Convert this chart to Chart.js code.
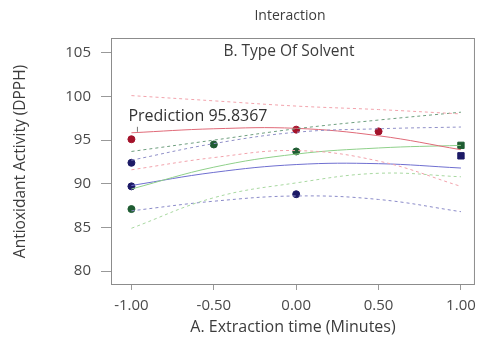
<!DOCTYPE html>
<html lang="en">
<head>
<meta charset="UTF-8">
<title>Interaction</title>
<style>
  body{margin:0;background:#fff}
  #wrap{width:483px;height:337px}
</style>
</head>
<body>
<div id="wrap"><canvas id="interactionChart"></canvas></div>
<script src="https://cdn.jsdelivr.net/npm/chart.js"></script>
<script>
// x levels (coded extraction time) and axis ticks
var xLevels = [-1, -0.5, 0, 0.5, 1];
var xTicks = [-1, -0.5, 0, 0.5, 1];
var yTicks = [80, 85, 90, 95, 100, 105];

// B1 (red) prediction and bands
var redFit  = [95.84, 96.3, 96.35, 95.5, 93.9];
var redHigh = [100.1, 99.5, 98.9, 98.5, 98.0];
var redLow  = [91.6, 93.0, 93.8, 92.6, 89.7];
// B2 (green)
var greenFit  = [89.4, 91.9, 93.4, 94.1, 94.4];
var greenHigh = [93.7, 95.0, 96.3, 97.3, 98.2];
var greenLow  = [84.9, 88.4, 90.1, 91.2, 90.8];
// B3 (blue)
var blueFit  = [89.8, 91.3, 92.2, 92.3, 91.8];
var blueHigh = [92.7, 94.6, 95.9, 96.3, 96.5];
var blueLow  = [86.9, 88.0, 88.6, 88.2, 86.8];

// design points
var redPtsX = [-1, 0, 0.5];
var redPtsY = [95.1, 96.2, 96.0];
var greenPtsX = [-1, -0.5, 0, 1];
var greenPtsY = [87.1, 94.5, 93.7, 94.4];
var bluePtsX = [-1, -1, 0, 1];
var bluePtsY = [92.4, 89.7, 88.8, 93.2];

var predX = -1;
var predValue = 95.8367;

function pts(xs, ys) {
  return xs.map(function (x, i) { return { x: x, y: ys[i] }; });
}
function curve(ys, color, dashed) {
  return {
    type: 'line',
    data: pts(xLevels, ys),
    borderColor: color,
    borderWidth: 1,
    borderDash: dashed ? [3, 3] : [],
    pointRadius: 0,
    tension: 0.4,
    fill: false
  };
}
function dots(xs, ys, color) {
  return {
    type: 'scatter',
    data: pts(xs, ys),
    backgroundColor: color,
    borderColor: color,
    pointRadius: function (ctx) { return ctx.raw && ctx.raw.x === 1 ? 4.5 : 3.5; },
    pointStyle: function (ctx) { return ctx.raw && ctx.raw.x === 1 ? 'rect' : 'circle'; }
  };
}

var extras = {
  id: 'extras',
  afterDraw: function (chart) {
    var c = chart.ctx, a = chart.chartArea;
    var xs = chart.scales.x, ys = chart.scales.y;
    c.save();
    c.strokeStyle = '#8c8c8c';
    c.lineWidth = 1;
    c.strokeRect(a.left + 0.5, a.top + 0.5, a.width - 1, a.height - 1);
    c.fillStyle = '#3c3c3c';
    c.textAlign = 'center';
    c.textBaseline = 'middle';
    c.font = '14px "Open Sans"';
    c.fillText('Interaction', (a.left + a.right) / 2 - 3, 16);
    c.font = '15.5px "Open Sans"';
    c.fillText('B. Type Of Solvent', (a.left + a.right) / 2 - 4, 52);
    var px = xs.getPixelForValue(predX), py = ys.getPixelForValue(predValue);
    c.textAlign = 'left';
    c.font = '16px "Open Sans"';
    c.fillStyle = '#333';
    c.fillText('Prediction ' + predValue.toFixed(4), px - 3, py - 16);
    c.strokeStyle = '#777';
    c.beginPath();
    c.moveTo(px + 6, py - 6);
    c.lineTo(px + 6, py - 1);
    c.stroke();
    c.restore();
  }
};

new Chart(document.getElementById('interactionChart'), {
  type: 'line',
  data: {
    datasets: [
      curve(redHigh, '#f2a3ac', true),
      curve(redLow, '#f2a3ac', true),
      curve(greenHigh, '#6f9f7f', true),
      curve(greenLow, '#a8d8a0', true),
      curve(blueHigh, '#9090c8', true),
      curve(blueLow, '#8a8ac8', true),
      curve(redFit, '#e06a78', false),
      curve(greenFit, '#8fd08a', false),
      curve(blueFit, '#6f6fd0', false),
      dots(redPtsX, redPtsY, '#a3122a'),
      dots(greenPtsX, greenPtsY, '#1f5c32'),
      dots(bluePtsX, bluePtsY, '#1c1a66')
    ]
  },
  options: {
    responsive: true,
    maintainAspectRatio: false,
    animation: false,
    layout: { padding: { top: 38, right: 3, left: 0, bottom: 0 } },
    plugins: { legend: { display: false }, tooltip: { enabled: false } },
    scales: {
      x: {
        type: 'linear',
        min: -1.124,
        max: 1.085,
        afterFit: function (s) { s.height = 52; },
        afterBuildTicks: function (s) { s.ticks = xTicks.map(function (v) { return { value: v }; }); },
        grid: { drawOnChartArea: false, drawTicks: true, tickLength: 5, color: '#999' },
        border: { display: false },
        ticks: {
          padding: 7,
          color: '#4a4a4a',
          font: { family: 'Open Sans', size: 15 },
          maxRotation: 0,
          callback: function (v) { return Number(v).toFixed(2); }
        },
        title: {
          display: true,
          text: 'A. Extraction time (Minutes)',
          color: '#3c3c3c',
          font: { family: 'Open Sans', size: 16 },
          padding: { top: 0, bottom: 0 }
        }
      },
      y: {
        type: 'linear',
        min: 78.4,
        max: 106.7,
        afterFit: function (s) { s.width = 111; },
        afterBuildTicks: function (s) { s.ticks = yTicks.map(function (v) { return { value: v }; }); },
        grid: { drawOnChartArea: false, drawTicks: true, tickLength: 10, color: '#999' },
        border: { display: false },
        ticks: {
          padding: 10,
          color: '#4a4a4a',
          font: { family: 'Open Sans', size: 15 }
        },
        title: {
          display: true,
          text: 'Antioxidant Activity (DPPH)',
          color: '#3c3c3c',
          font: { family: 'Open Sans', size: 15.5 },
          padding: { top: 11, bottom: 0 }
        }
      }
    }
  },
  plugins: [extras]
});
</script>
</body>
</html>
